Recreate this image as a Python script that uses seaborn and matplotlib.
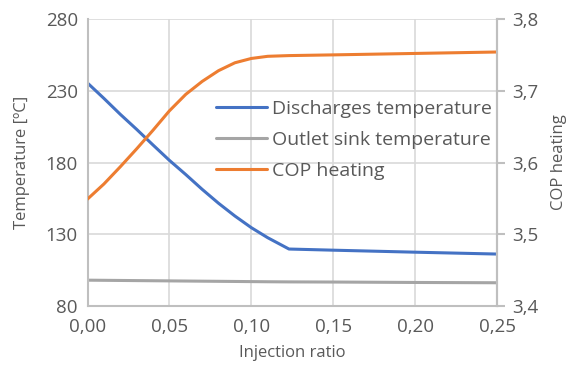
import numpy as np
import pandas as pd
import matplotlib
matplotlib.use("Agg")
import matplotlib.pyplot as plt
import seaborn as sns
from matplotlib.ticker import FuncFormatter, FixedLocator

# values
injection_ratio = [0.00, 0.01, 0.02, 0.03, 0.04, 0.05, 0.06, 0.07, 0.08, 0.09,
                   0.10, 0.11, 0.123, 0.15, 0.20, 0.25]
discharge_temp = [235.4, 224.7, 213.6, 203.1, 192.2, 181.5, 171.6, 161.3, 151.6, 142.7,
                  134.6, 127.6, 119.7, 118.9, 117.5, 116.2]
sink_temp = [98.0, 97.9, 97.8, 97.7, 97.6, 97.5, 97.4, 97.3, 97.2, 97.1,
             97.0, 96.9, 96.8, 96.7, 96.4, 96.2]
cop_heating = [3.549, 3.570, 3.594, 3.619, 3.645, 3.672, 3.695, 3.713, 3.728, 3.739,
               3.745, 3.748, 3.749, 3.750, 3.752, 3.754]

x_ticks = [0.00, 0.05, 0.10, 0.15, 0.20, 0.25]
temp_ticks = [80, 130, 180, 230, 280]
cop_ticks = [3.4, 3.5, 3.6, 3.7, 3.8]

df = pd.DataFrame({"x": injection_ratio, "discharge": discharge_temp,
                   "sink": sink_temp, "cop": cop_heating})

sns.set_style("white")
plt.rcParams["font.family"] = ["Open Sans", "DejaVu Sans"]
text_col = "#595959"
grid_col = "#d9d9d9"
spine_col = "#bfbfbf"
blue, gray, orange = "#4472C4", "#A5A5A5", "#ED7D31"

fig = plt.figure(figsize=(5.68, 3.68), dpi=100)
ax = fig.add_axes([87.5 / 568, 1 - 306 / 368, (497 - 87.5) / 568, (306 - 19) / 368])
ax2 = ax.twinx()

sns.lineplot(data=df, x="x", y="discharge", ax=ax, color=blue, lw=2.2, label="Discharges temperature", legend=False)
sns.lineplot(data=df, x="x", y="sink", ax=ax, color=gray, lw=2.2, label="Outlet sink temperature", legend=False)
sns.lineplot(data=df, x="x", y="cop", ax=ax2, color=orange, lw=2.2, label="COP heating", legend=False)

ax.set_xlim(0, 0.25)
ax.set_ylim(80, 280)
ax2.set_ylim(3.4, 3.8)
ax.xaxis.set_major_locator(FixedLocator(x_ticks))
ax.yaxis.set_major_locator(FixedLocator(temp_ticks))
ax2.yaxis.set_major_locator(FixedLocator(cop_ticks))

comma = lambda fmt: FuncFormatter(lambda v, p: (fmt % v).replace(".", ","))
ax.xaxis.set_major_formatter(comma("%.2f"))
ax.yaxis.set_major_formatter(comma("%.0f"))
ax2.yaxis.set_major_formatter(comma("%.1f"))

ax.grid(True, color=grid_col, lw=1.2)
ax.set_axisbelow(True)
ax.spines["top"].set_visible(False)
ax2.spines["top"].set_visible(False)
for a in (ax, ax2):
    for s in ["left", "right", "bottom"]:
        a.spines[s].set_color(spine_col)
        a.spines[s].set_linewidth(1.5)
ax2.spines["left"].set_visible(False)
ax2.spines["bottom"].set_visible(False)

ax.tick_params(axis="x", length=0, labelsize=13.5, labelcolor=text_col, pad=9)
ax.tick_params(axis="y", length=0, labelsize=13.5, labelcolor=text_col, pad=7)
ax2.tick_params(axis="y", length=6, width=1.5, color=spine_col, labelsize=13.5,
                labelcolor=text_col, pad=5)

ax.set_xlabel("Injection ratio", fontsize=12, color=text_col, labelpad=6)
ax.set_ylabel("Temperature [ºC]", fontsize=12, color=text_col, labelpad=11)
ax2.set_ylabel("COP heating", fontsize=12, color=text_col, labelpad=9)

h1, l1 = ax.get_legend_handles_labels()
h2, l2 = ax2.get_legend_handles_labels()
leg = ax2.legend(h1 + h2, l1 + l2, loc="center left", bbox_to_anchor=(216 / 568, 1 - 140 / 368),
                 bbox_transform=fig.transFigure, frameon=False, fontsize=14,
                 handlelength=2.6, handletextpad=0.3, labelspacing=0.68,
                 borderpad=0, borderaxespad=0)
for t in leg.get_texts():
    t.set_color(text_col)

fig.savefig("out.png", dpi=100)
